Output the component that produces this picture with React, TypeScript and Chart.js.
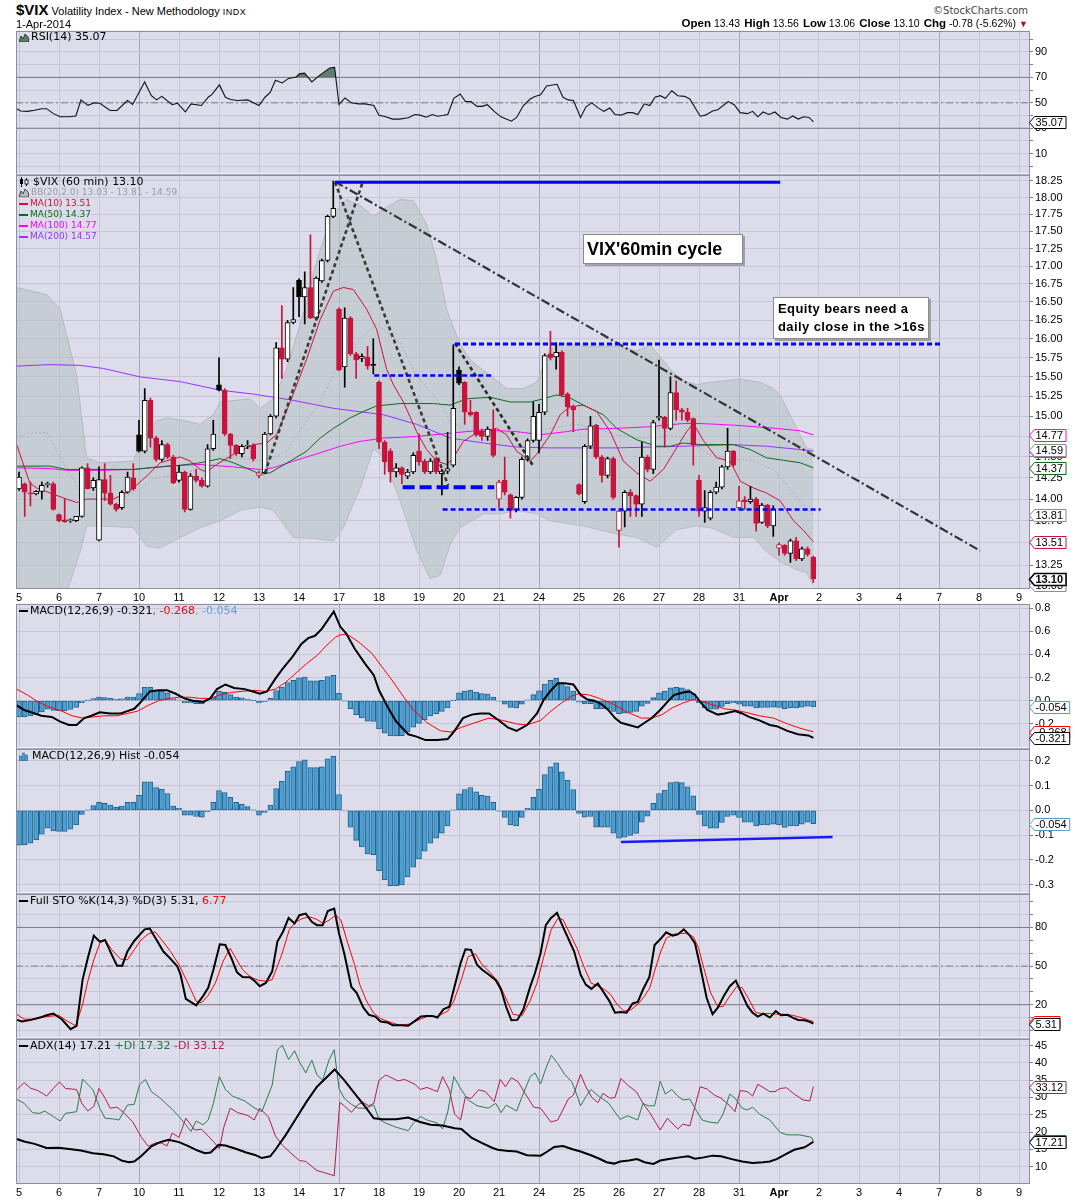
import React, { useEffect, useRef } from 'react';
import { Chart, registerables } from 'chart.js';

Chart.register(...registerables);

const AX_FONT = '"Liberation Sans", Arial, Helvetica, sans-serif';
const LG_FONT = '"DejaVu Sans", Verdana, sans-serif';
const PLOT_BG = '#dcdcea';
const GRID = '#c6c6d6';
const GRID_DARK = '#a9a9bb';
const FRAME = '#8e8e9e';
const CANDLE_RED = '#c8143c';
const HIST_FILL = '#4b9fd3';
const HIST_EDGE = '#23618c';

// ---- x axis (day index, 0 = 5 Mar 2014; 7 hourly bars per session) ----
const DAY_LABELS = ['5', '6', '7', '10', '11', '12', '13', '14', '17', '18', '19', '20', '21', '24', '25', '26', '27', '28', '31', 'Apr', '2', '3', '4', '7', '8', '9'];
const WEEK_STARTS = [3, 8, 13, 18, 23];
const BARS_PER_DAY = 7;
const X_MIN = -0.075;
const X_MAX = 25.25;

// ---- 60 min candles ----
const OPEN = [
  14.12, 14.18, 14.07, 14.06, 14.09, 14.17, 14.18,
  13.82, 13.76, 13.75, 13.75, 13.8, 14.37, 14.13,
  13.53, 14.23, 14.07, 13.94, 13.9, 14.08, 14.25,
  14.77, 14.57, 15.2, 14.73, 14.47, 14.65, 14.5,
  14.22, 14.32, 13.88, 14.27, 14.22, 14.15, 14.6,
  15.4, 15.33, 14.78, 14.64, 14.54, 14.63, 14.64,
  14.28, 14.31, 14.78, 15.0, 15.88, 15.73, 16.22,
  16.8, 16.57, 16.7, 16.28, 16.79, 17.08, 17.72,
  16.4, 15.63, 16.28, 15.8, 15.74, 15.76, 15.66,
  15.43, 14.68, 14.57, 14.32, 14.37, 14.27, 14.32,
  14.57, 14.45, 14.32, 14.47, 14.3, 14.33, 14.4,
  15.59, 15.43, 15.05, 15.05, 14.82, 14.75, 14.84,
  14.0, 14.22, 14.05, 13.87, 14.02, 14.47, 14.7,
  14.7, 15.05, 15.8, 15.76, 15.82, 15.28, 15.12,
  14.17, 13.97, 14.63, 14.89, 14.5, 14.28, 14.48,
  13.64, 13.86, 14.08, 14.04, 13.94, 14.5, 14.35,
  14.98, 14.99, 14.85, 15.3, 15.08, 15.05, 14.97,
  14.22, 13.86, 13.78, 14.08, 14.14, 14.38, 14.57,
  13.9, 13.99, 13.97, 14.0, 13.73, 13.93, 13.69,
  13.44, 13.47, 13.38, 13.52, 13.32, 13.43, 13.34,
];
const HIGH = [
  14.32, 14.19, 14.2, 14.1, 14.2, 14.2, 14.2,
  13.83, 14.0, 13.77, 13.8, 14.38, 14.42, 14.25,
  14.38, 14.42, 14.28, 13.95, 14.1, 14.32, 14.42,
  14.95, 15.35, 15.23, 14.75, 14.7, 14.67, 14.52,
  14.4, 14.33, 14.3, 14.35, 14.25, 14.65, 14.95,
  15.75, 15.35, 14.79, 14.65, 14.65, 14.7, 14.66,
  14.33, 14.8, 15.02, 15.95, 16.45, 16.25, 16.7,
  16.82, 16.92, 17.45, 16.85, 17.1, 17.74, 18.25,
  16.42, 16.42, 16.3, 15.82, 15.8, 15.9, 16.0,
  15.45, 14.7, 14.6, 14.42, 14.38, 14.35, 14.55,
  14.78, 14.47, 14.48, 14.5, 14.35, 14.8, 15.92,
  15.63, 15.44, 15.2, 15.06, 14.84, 14.87, 15.08,
  14.22, 14.5, 14.06, 14.03, 14.5, 14.72, 15.18,
  15.15, 15.8, 16.1, 15.95, 15.84, 15.3, 15.14,
  14.18, 14.65, 15.0, 14.9, 14.52, 14.5, 14.5,
  13.87, 14.1, 14.11, 14.05, 14.68, 14.52, 14.95,
  15.72, 15.0, 15.5, 15.45, 15.1, 15.1, 14.98,
  14.28, 14.1, 14.1, 14.2, 14.4, 14.85, 14.58,
  14.15, 14.03, 14.15, 14.02, 13.95, 13.94, 13.92,
  13.5, 13.48, 13.54, 13.56, 13.45, 13.45, 13.35,
];
const LOW = [
  14.1, 13.8, 13.92, 14.05, 14.0, 14.14, 13.87,
  13.74, 13.73, 13.73, 13.74, 13.79, 14.12, 14.1,
  13.52, 13.98, 13.93, 13.86, 13.88, 14.07, 14.1,
  14.56, 14.55, 14.62, 14.45, 14.45, 14.48, 14.18,
  14.2, 13.85, 13.87, 14.2, 14.14, 14.14, 14.58,
  15.32, 14.76, 14.48, 14.52, 14.5, 14.6, 14.45,
  14.25, 14.3, 14.77, 14.98, 15.48, 15.7, 16.2,
  16.3, 16.2, 16.27, 16.25, 16.77, 17.06, 17.7,
  15.58, 15.37, 15.78, 15.48, 15.7, 15.6, 15.54,
  14.6, 14.29, 14.2, 14.26, 14.18, 14.24, 14.3,
  14.4, 14.3, 14.3, 14.3, 14.05, 14.3, 14.38,
  15.4, 14.9, 15.0, 14.75, 14.7, 14.7, 14.5,
  13.9, 14.05, 13.78, 13.85, 14.0, 14.45, 14.68,
  14.55, 15.02, 15.72, 15.6, 15.25, 15.0, 14.81,
  14.05, 13.95, 14.6, 14.48, 14.2, 14.25, 14.0,
  13.45, 13.68, 13.8, 13.8, 13.8, 14.32, 14.3,
  14.95, 14.62, 14.83, 14.95, 14.95, 14.93, 14.4,
  13.8, 13.73, 13.76, 14.06, 14.12, 14.35, 14.38,
  13.88, 13.88, 13.95, 13.63, 13.72, 13.67, 13.57,
  13.36, 13.36, 13.28, 13.3, 13.3, 13.35, 13.06,
];
const CLOSE = [
  14.26, 14.08, 14.06, 14.09, 14.16, 14.18, 13.88,
  13.75, 13.74, 13.76, 13.8, 14.37, 14.12, 14.22,
  14.23, 14.07, 13.94, 13.88, 14.08, 14.26, 14.12,
  14.57, 15.2, 14.73, 14.47, 14.65, 14.5, 14.19,
  14.32, 13.88, 14.27, 14.22, 14.15, 14.6, 14.78,
  15.33, 14.78, 14.64, 14.54, 14.63, 14.64, 14.48,
  14.31, 14.78, 15.0, 15.88, 15.73, 16.22, 16.26,
  16.57, 16.7, 16.28, 16.83, 17.08, 17.72, 17.84,
  15.59, 16.28, 15.8, 15.72, 15.77, 15.64, 15.65,
  14.68, 14.44, 14.32, 14.37, 14.29, 14.32, 14.52,
  14.44, 14.32, 14.45, 14.32, 14.33, 14.36, 15.1,
  15.42, 15.05, 15.02, 14.77, 14.75, 14.84, 14.52,
  14.2, 14.08, 13.87, 14.02, 14.47, 14.7, 15.0,
  15.05, 15.78, 15.75, 15.82, 15.27, 15.12, 15.08,
  14.06, 14.63, 14.88, 14.5, 14.28, 14.48, 14.02,
  13.86, 14.08, 14.04, 13.94, 14.5, 14.35, 14.92,
  15.0, 14.85, 15.3, 15.08, 15.05, 14.95, 14.65,
  13.86, 13.9, 14.08, 14.14, 14.38, 14.57, 14.4,
  13.98, 13.97, 14.0, 13.72, 13.93, 13.69, 13.88,
  13.48, 13.38, 13.52, 13.32, 13.43, 13.37, 13.1,
];

// ---- overlays on price: [day, value] readings ----
const MA10 = [[-0.06, 14.65], [0.27, 14.19], [0.44, 14.13], [0.78, 14.07], [1.19, 14.0], [1.44, 13.96], [1.69, 14.0], [2.36, 14.0], [2.61, 14.05], [2.86, 14.13], [3.19, 14.27], [3.53, 14.43], [4.03, 14.5], [4.28, 14.45], [4.53, 14.35], [4.69, 14.32], [4.94, 14.41], [5.36, 14.53], [5.86, 14.65], [6.19, 14.67], [6.44, 14.77], [6.78, 15.18], [7.19, 15.73], [7.53, 16.26], [7.86, 16.65], [8.11, 16.7], [8.36, 16.67], [8.69, 16.4], [8.94, 16.13], [9.19, 15.6], [9.36, 15.4], [9.61, 15.18], [9.94, 14.81], [10.19, 14.59], [10.44, 14.45], [10.69, 14.41], [10.86, 14.49], [11.11, 14.69], [11.36, 14.77], [11.61, 14.81], [11.94, 14.85], [12.19, 14.77], [12.44, 14.57], [12.78, 14.45], [12.94, 14.53], [13.28, 14.77], [13.53, 15.02], [13.78, 15.12], [14.11, 15.14], [14.44, 15.06], [14.78, 14.81], [15.11, 14.45], [15.44, 14.31], [15.78, 14.21], [16.11, 14.35], [16.44, 14.61], [16.69, 14.81], [16.86, 14.91], [17.11, 14.7], [17.44, 14.49], [17.78, 14.45], [18.03, 14.21], [18.36, 14.13], [18.69, 14.07], [19.03, 13.98], [19.36, 13.75], [19.61, 13.64], [19.86, 13.51]];
const MA50 = [[-0.06, 14.39], [0.78, 14.39], [1.19, 14.35], [2.03, 14.35], [2.86, 14.35], [3.28, 14.37], [4.03, 14.4], [4.53, 14.43], [5.03, 14.48], [5.36, 14.43], [5.86, 14.33], [6.03, 14.29], [6.28, 14.31], [6.78, 14.45], [7.19, 14.57], [7.53, 14.73], [7.86, 14.85], [8.28, 14.98], [8.61, 15.06], [8.94, 15.13], [9.53, 15.16], [10.36, 15.16], [10.78, 15.14], [11.19, 15.22], [11.78, 15.24], [12.28, 15.18], [12.78, 15.18], [13.11, 15.22], [13.44, 15.27], [13.78, 15.23], [14.11, 15.14], [14.61, 15.02], [14.94, 14.85], [15.44, 14.71], [15.94, 14.63], [16.28, 14.63], [16.61, 14.67], [17.03, 14.65], [17.86, 14.65], [18.28, 14.59], [18.69, 14.49], [19.11, 14.46], [19.53, 14.43], [19.86, 14.37]];
const MA100 = [[-0.06, 14.37], [0.78, 14.36], [1.19, 14.34], [2.03, 14.34], [2.86, 14.35], [3.69, 14.39], [4.53, 14.41], [5.36, 14.38], [6.03, 14.35], [6.36, 14.37], [6.86, 14.45], [7.53, 14.55], [8.03, 14.63], [8.53, 14.69], [9.11, 14.73], [9.94, 14.75], [10.78, 14.79], [11.61, 14.83], [12.44, 14.81], [13.03, 14.77], [13.69, 14.81], [14.11, 14.84], [14.94, 14.85], [15.78, 14.87], [16.61, 14.91], [17.03, 14.91], [17.86, 14.89], [18.69, 14.86], [19.53, 14.82], [19.86, 14.77]];
const MA200 = [[-0.06, 15.64], [0.78, 15.66], [1.53, 15.65], [2.11, 15.61], [3.03, 15.5], [4.03, 15.44], [5.03, 15.33], [5.86, 15.28], [6.86, 15.2], [7.86, 15.1], [9.11, 15.02], [9.94, 14.9], [10.78, 14.73], [11.61, 14.67], [12.44, 14.62], [13.28, 14.61], [14.94, 14.61], [16.61, 14.63], [17.86, 14.65], [18.69, 14.63], [19.53, 14.59], [19.86, 14.57]];
const BB_UPPER = [[-0.06, 16.7], [0.69, 16.6], [1.03, 16.4], [1.44, 15.52], [1.69, 14.49], [2.03, 14.43], [2.86, 14.45], [3.11, 14.77], [3.44, 14.94], [3.69, 14.98], [4.19, 14.94], [4.53, 14.9], [4.86, 15.02], [5.03, 15.18], [5.78, 15.22], [6.03, 15.1], [6.36, 15.22], [6.69, 15.6], [7.19, 16.49], [7.36, 16.9], [7.78, 17.7], [8.19, 17.97], [8.53, 17.88], [8.86, 17.72], [9.19, 17.85], [9.53, 17.97], [9.86, 17.95], [10.19, 17.6], [10.44, 17.09], [10.69, 16.4], [10.86, 16.15], [11.03, 15.93], [11.28, 15.72], [11.78, 15.52], [12.19, 15.35], [12.61, 15.35], [12.94, 15.43], [13.28, 15.86], [13.61, 15.94], [14.11, 15.9], [14.94, 15.9], [15.44, 15.84], [15.78, 15.92], [16.28, 15.6], [16.61, 15.45], [16.94, 15.4], [17.28, 15.43], [18.03, 15.47], [18.53, 15.43], [18.86, 15.35], [19.03, 15.27], [19.44, 14.85], [19.69, 14.61], [19.86, 14.59]];
const BB_MIDDLE = [[-0.06, 14.72], [0.19, 14.79], [0.69, 14.8], [1.03, 14.49], [1.53, 14.09], [2.03, 14.03], [2.69, 14.03], [3.03, 14.12], [3.36, 14.24], [4.03, 14.29], [4.86, 14.41], [5.36, 14.49], [6.19, 14.45], [6.69, 14.57], [7.19, 14.94], [7.53, 15.18], [7.86, 15.52], [8.19, 15.77], [8.53, 16.0], [8.94, 16.2], [9.53, 15.95], [9.94, 15.52], [10.44, 15.22], [10.78, 14.94], [11.28, 14.81], [11.78, 14.81], [12.44, 14.79], [12.94, 14.81], [13.28, 14.85], [13.94, 14.9], [14.44, 14.85], [14.94, 14.77], [15.44, 14.73], [15.94, 14.73], [16.28, 14.77], [16.61, 14.73], [17.28, 14.53], [17.69, 14.49], [18.36, 14.45], [18.86, 14.35], [19.19, 14.17], [19.53, 13.98], [19.86, 13.81]];
const BB_LOWER = [[-0.06, 12.5], [0.78, 12.4], [1.19, 12.95], [1.53, 13.4], [1.69, 13.69], [2.03, 13.69], [2.86, 13.67], [3.19, 13.46], [3.53, 13.44], [4.03, 13.56], [4.53, 13.67], [5.03, 13.75], [5.53, 13.87], [6.03, 13.91], [6.36, 13.87], [6.86, 13.56], [7.36, 13.55], [7.86, 13.52], [8.11, 13.67], [8.53, 14.13], [8.86, 14.6], [9.11, 14.5], [9.53, 13.98], [9.94, 13.42], [10.28, 13.1], [10.53, 13.14], [10.78, 13.48], [11.03, 13.67], [11.61, 13.83], [12.03, 13.83], [12.44, 13.87], [12.94, 13.83], [13.28, 13.75], [14.11, 13.69], [14.94, 13.6], [15.44, 13.56], [15.94, 13.45], [16.44, 13.65], [16.94, 13.69], [17.28, 13.67], [17.53, 13.63], [17.86, 13.56], [18.36, 13.56], [18.69, 13.4], [19.03, 13.29], [19.44, 13.2], [19.69, 13.17], [19.86, 13.03]];

// ---- hand-drawn annotations (day, price) ----
const BLUE_HIGH = [[7.9, 18.23], [19.03, 18.23]];
const BLUE_RES = [[10.9, 15.93], [23.03, 15.93]];
const BLUE_MID = [[8.88, 15.52], [11.82, 15.52]];
const BLUE_LOW1 = [[9.59, 14.14], [11.88, 14.14]];
const BLUE_LOW2 = [[10.59, 13.88], [20.04, 13.88]];
const TREND_DOWN = [[7.9, 18.24], [24.03, 13.41]];
const CYCLE_UP = [[6.15, 14.31], [8.59, 18.23]];
const CYCLE_DOWN = [[7.9, 18.23], [10.73, 14.16]];
const CYCLE_DOWN2 = [[10.9, 15.94], [12.86, 14.39]];

// ---- RSI(14) ----
const RSI = [[-0.06, 45.4], [0.04, 43.6], [0.21, 43.3], [0.39, 44.1], [0.56, 45.4], [0.69, 45.4], [0.86, 41.5], [1.03, 39], [1.25, 39], [1.42, 39.7], [1.55, 52.3], [1.72, 48], [1.89, 50], [2.02, 49.7], [2.28, 44], [2.45, 44], [2.71, 51.8], [2.84, 48.7], [3.14, 66.4], [3.31, 55.6], [3.44, 52.3], [3.57, 55.1], [3.83, 48.5], [3.96, 49.7], [4.16, 42.8], [4.3, 49.2], [4.56, 47.9], [4.73, 54.4], [4.82, 56.4], [5.01, 64.1], [5.16, 54.4], [5.29, 52.6], [5.46, 51.8], [5.72, 52.3], [6.0, 47.9], [6.15, 54.4], [6.28, 58.2], [6.41, 67.7], [6.58, 65.6], [6.74, 69.2], [6.93, 70.3], [7.01, 72.8], [7.14, 73.3], [7.32, 66.4], [7.49, 71], [7.66, 74.9], [7.77, 77.4], [7.89, 77.9], [8.0, 48.7], [8.15, 53.8], [8.31, 50], [8.48, 49.2], [8.65, 49.2], [8.87, 47.9], [9.0, 40.3], [9.17, 39], [9.34, 37.2], [9.51, 37.2], [9.73, 38.2], [9.9, 40.8], [10.03, 40.3], [10.18, 38.7], [10.33, 40.8], [10.46, 39.5], [10.59, 40], [10.72, 40.8], [10.87, 53.6], [11.03, 56.9], [11.16, 51], [11.3, 51], [11.45, 47.2], [11.58, 47.2], [11.71, 48.5], [11.88, 43.3], [12.05, 39], [12.31, 35.6], [12.44, 38.5], [12.61, 47.9], [12.78, 53], [12.9, 54.9], [13.04, 56.4], [13.19, 63.3], [13.45, 64.6], [13.6, 54.4], [13.73, 52.3], [13.86, 51.8], [14.04, 38.5], [14.17, 46.7], [14.32, 50], [14.47, 46.2], [14.62, 43.3], [14.77, 45.9], [14.9, 40.8], [15.05, 40.3], [15.21, 42.3], [15.34, 42.3], [15.47, 40.8], [15.63, 49.2], [15.77, 47.9], [15.9, 54.4], [16.03, 55.6], [16.16, 53.6], [16.32, 59.5], [16.47, 55.6], [16.64, 55.1], [16.77, 53], [17.03, 39.5], [17.16, 40.3], [17.34, 43.6], [17.47, 44.6], [17.73, 51], [17.88, 48.5], [18.03, 42.3], [18.21, 41.5], [18.34, 43.3], [18.47, 39], [18.6, 42.8], [18.75, 40.8], [18.9, 42.8], [19.05, 38.5], [19.21, 37.2], [19.34, 39.7], [19.48, 37.2], [19.62, 39], [19.75, 38.5], [19.86, 35.07]];
const RSI_TICKS = [0, 10, 20, 30, 40, 50, 60, 70, 80, 90, 100];
const RSI_LABELED = [90, 70, 50, 30, 10];
const RSI_BANDS = [70, 30];
const RSI_MID = 50;

// ---- MACD(12,26,9) ----
const MACD = [[-0.06, -0.04], [0.13, -0.08], [0.3, -0.1], [0.56, -0.13], [0.82, -0.14], [1.03, -0.18], [1.25, -0.21], [1.44, -0.21], [1.63, -0.15], [1.81, -0.13], [2.02, -0.1], [2.28, -0.11], [2.54, -0.11], [2.71, -0.09], [2.88, -0.07], [3.05, -0.01], [3.27, 0.08], [3.49, 0.09], [3.7, 0.09], [3.92, 0.06], [4.13, 0.02], [4.35, 0], [4.6, -0.01], [4.78, 0.02], [4.95, 0.1], [5.16, 0.14], [5.38, 0.11], [5.64, 0.1], [5.85, 0.08], [6.02, 0.06], [6.2, 0.08], [6.41, 0.19], [6.58, 0.27], [6.84, 0.38], [7.06, 0.49], [7.23, 0.54], [7.4, 0.56], [7.57, 0.62], [7.75, 0.71], [7.87, 0.77], [8.03, 0.64], [8.18, 0.58], [8.39, 0.45], [8.65, 0.32], [8.87, 0.22], [9.0, 0.09], [9.21, -0.05], [9.43, -0.18], [9.73, -0.29], [9.94, -0.31], [10.16, -0.34], [10.46, -0.34], [10.72, -0.33], [10.89, -0.26], [11.1, -0.15], [11.32, -0.12], [11.53, -0.11], [11.75, -0.11], [11.96, -0.16], [12.22, -0.23], [12.44, -0.26], [12.7, -0.21], [12.95, -0.11], [13.12, 0.01], [13.3, 0.09], [13.47, 0.15], [13.64, 0.15], [13.86, 0.14], [14.04, 0.05], [14.21, 0.01], [14.38, 0], [14.56, -0.03], [14.73, -0.08], [14.9, -0.15], [15.05, -0.19], [15.25, -0.21], [15.47, -0.23], [15.64, -0.19], [15.82, -0.15], [16.03, -0.08], [16.21, -0.01], [16.38, 0.05], [16.6, 0.07], [16.77, 0.08], [16.9, 0.05], [17.03, -0.01], [17.21, -0.08], [17.47, -0.12], [17.64, -0.11], [17.9, -0.09], [18.08, -0.11], [18.25, -0.14], [18.51, -0.17], [18.77, -0.21], [18.94, -0.22], [19.21, -0.26], [19.47, -0.29], [19.73, -0.3], [19.86, -0.321]];
const MACD_SIGNAL = [[-0.06, 0.1], [0.21, 0.05], [0.47, -0.01], [0.73, -0.05], [1.07, -0.09], [1.33, -0.13], [1.59, -0.15], [1.85, -0.14], [2.11, -0.13], [2.45, -0.13], [2.71, -0.11], [2.97, -0.09], [3.23, -0.04], [3.49, 0], [3.74, 0.02], [4.0, 0.03], [4.26, 0.03], [4.52, 0.02], [4.78, 0.02], [5.03, 0.05], [5.29, 0.07], [5.55, 0.08], [5.9, 0.09], [6.15, 0.08], [6.41, 0.1], [6.67, 0.16], [6.93, 0.24], [7.19, 0.32], [7.45, 0.39], [7.7, 0.48], [7.92, 0.55], [8.05, 0.57], [8.22, 0.57], [8.48, 0.51], [8.82, 0.41], [9.08, 0.29], [9.34, 0.17], [9.6, 0.04], [9.86, -0.08], [10.2, -0.19], [10.54, -0.26], [10.8, -0.27], [11.06, -0.23], [11.4, -0.19], [11.75, -0.15], [12.09, -0.17], [12.44, -0.2], [12.7, -0.21], [13.04, -0.17], [13.3, -0.09], [13.56, -0.02], [13.82, 0.04], [13.99, 0.06], [14.25, 0.05], [14.51, 0.02], [14.86, -0.03], [15.21, -0.1], [15.56, -0.15], [15.82, -0.15], [16.08, -0.12], [16.34, -0.06], [16.6, -0.02], [16.86, 0.01], [17.12, -0.01], [17.38, -0.04], [17.64, -0.07], [17.9, -0.08], [18.16, -0.1], [18.51, -0.13], [18.86, -0.15], [19.21, -0.2], [19.55, -0.24], [19.86, -0.268]];
const MACD_HIST = [
  -0.141, -0.139, -0.132, -0.119, -0.096, -0.072, -0.083,
  -0.085, -0.085, -0.076, -0.059, -0.016, 0.001, 0.019,
  0.032, 0.028, 0.021, 0.013, 0.017, 0.032, 0.032,
  0.061, 0.115, 0.115, 0.092, 0.085, 0.068, 0.017,
  0.008, -0.019, -0.019, -0.025, -0.028, -0.005, 0.032,
  0.08, 0.072, 0.052, 0.032, 0.024, 0.015, 0.001,
  -0.019, -0.008, 0.021, 0.088, 0.117, 0.157, 0.175,
  0.197, 0.204, 0.172, 0.172, 0.175, 0.208, 0.219,
  0.064, -0.002, -0.068, -0.121, -0.148, -0.176, -0.179,
  -0.243, -0.281, -0.304, -0.304, -0.301, -0.269, -0.229,
  -0.196, -0.165, -0.132, -0.112, -0.092, -0.063, 0.001,
  0.067, 0.084, 0.092, 0.075, 0.061, 0.057, 0.032,
  -0.003, -0.029, -0.059, -0.063, -0.029, 0.008, 0.052,
  0.085, 0.144, 0.175, 0.192, 0.155, 0.121, 0.084,
  -0.012, -0.028, -0.025, -0.068, -0.068, -0.068, -0.092,
  -0.112, -0.108, -0.101, -0.093, -0.048, -0.024, 0.028,
  0.068, 0.081, 0.112, 0.115, 0.112, 0.095, 0.059,
  -0.016, -0.063, -0.072, -0.072, -0.049, -0.025, -0.019,
  -0.029, -0.048, -0.048, -0.063, -0.059, -0.059, -0.056,
  -0.059, -0.069, -0.063, -0.063, -0.056, -0.048, -0.054,
];
const MACD_TICKS = [-0.2, 0, 0.2, 0.4, 0.6, 0.8];
const HIST_TICKS = [-0.3, -0.2, -0.1, 0, 0.1, 0.2];
const HIST_DIVERGENCE = [[15.05, -0.128], [20.34, -0.108]];

// ---- Full STO %K(14,3) %D(3) ----
const STO_K = [[-0.06, 8.2], [0.08, 6.9], [0.3, 8.2], [0.52, 10], [0.69, 11.8], [0.86, 13.1], [1.07, 8.7], [1.29, 1], [1.44, 3.6], [1.59, 39.5], [1.72, 56.2], [1.87, 73.6], [2.02, 69], [2.15, 70.3], [2.32, 58.7], [2.45, 50.3], [2.58, 50.3], [2.71, 61.3], [2.88, 69.5], [3.01, 74.1], [3.14, 78.5], [3.27, 79.2], [3.44, 70.3], [3.61, 61.3], [3.79, 55.6], [3.96, 49.7], [4.04, 43.3], [4.17, 24.6], [4.43, 19.5], [4.6, 26.7], [4.73, 33.1], [4.86, 47.2], [5.02, 66.9], [5.16, 66.4], [5.31, 56.2], [5.45, 45.1], [5.59, 41.5], [5.77, 41.3], [5.9, 38.2], [6.02, 34.4], [6.17, 36.9], [6.33, 45.9], [6.46, 69], [6.6, 76.7], [6.74, 87.4], [6.89, 83.1], [7.01, 89.5], [7.17, 90.8], [7.32, 84.4], [7.45, 81.8], [7.59, 81.8], [7.72, 92.8], [7.88, 94.6], [8.0, 75.4], [8.13, 60], [8.31, 33.8], [8.44, 29.2], [8.61, 17.7], [8.75, 12.1], [8.91, 10.8], [9.04, 6.9], [9.21, 6.2], [9.34, 4.1], [9.55, 4.1], [9.73, 3.6], [9.9, 7.4], [10.05, 10.8], [10.2, 11.3], [10.33, 11.3], [10.46, 10], [10.61, 16.4], [10.76, 18.5], [10.89, 34.4], [11.04, 52.3], [11.16, 63.1], [11.3, 62.6], [11.45, 51], [11.58, 47.2], [11.75, 43.3], [11.92, 39], [12.05, 31.8], [12.18, 18.2], [12.31, 7.9], [12.46, 8.2], [12.61, 16.4], [12.78, 34], [12.9, 44.6], [13.04, 60], [13.17, 81.8], [13.3, 87.4], [13.45, 91.3], [13.6, 80.5], [13.73, 71.5], [13.88, 61.3], [14.04, 43.3], [14.17, 35.6], [14.31, 32.3], [14.47, 36.4], [14.6, 30.5], [14.76, 22.8], [14.9, 13.8], [15.05, 14.4], [15.19, 13.8], [15.34, 21], [15.47, 22.1], [15.6, 31.8], [15.76, 41.5], [15.89, 66.4], [16.03, 70.8], [16.18, 76.2], [16.34, 73.6], [16.47, 74.6], [16.62, 78.5], [16.76, 74.1], [16.9, 67.7], [17.03, 49.7], [17.19, 25.4], [17.34, 12.6], [17.47, 17.7], [17.62, 26.7], [17.77, 34.4], [17.92, 38.7], [18.06, 29.2], [18.21, 19], [18.34, 13.8], [18.47, 10.8], [18.61, 13.1], [18.77, 10], [18.92, 15.1], [19.05, 11.8], [19.21, 12.1], [19.34, 10], [19.48, 8.2], [19.64, 7.9], [19.77, 6.7], [19.86, 5.31]];
const STO_D = [[-0.06, 12.6], [0.13, 8.7], [0.39, 8.7], [0.64, 10.5], [0.99, 11.8], [1.2, 7.4], [1.42, 3.6], [1.59, 20.3], [1.72, 38.2], [1.87, 54.9], [2.02, 67.7], [2.15, 70.3], [2.32, 62.6], [2.54, 55.4], [2.71, 54.9], [2.88, 62.6], [3.05, 70.3], [3.23, 74.9], [3.4, 76.7], [3.57, 70.3], [3.79, 61.3], [4.0, 51], [4.22, 36.9], [4.43, 22.8], [4.56, 21.5], [4.73, 27.2], [4.91, 36.9], [5.1, 53.6], [5.28, 63.8], [5.42, 56.2], [5.59, 47.2], [5.79, 41.5], [5.98, 39], [6.2, 38.2], [6.33, 39.5], [6.46, 49.7], [6.58, 60], [6.76, 78.5], [6.93, 84.4], [7.08, 86.9], [7.27, 88.2], [7.45, 86.2], [7.6, 83.1], [7.75, 85.6], [7.92, 89.5], [8.05, 85.6], [8.22, 67.7], [8.39, 51], [8.52, 35.6], [8.69, 22.8], [8.87, 13.3], [9.04, 9.2], [9.25, 6.7], [9.51, 4.1], [9.77, 4.9], [10.03, 8.7], [10.24, 11.3], [10.46, 10.8], [10.72, 15.1], [10.87, 22.8], [11.06, 39.5], [11.23, 57.4], [11.41, 59.5], [11.58, 51], [11.75, 45.9], [11.97, 38.2], [12.14, 27.2], [12.35, 12.6], [12.57, 11.3], [12.78, 23], [12.95, 36.9], [13.12, 57.4], [13.3, 77.9], [13.47, 86.9], [13.6, 86.2], [13.77, 75.4], [13.95, 63.8], [14.12, 49.7], [14.3, 36.9], [14.47, 34.4], [14.64, 31.8], [14.79, 27.9], [14.95, 20.3], [15.12, 15.1], [15.29, 15.9], [15.47, 20.3], [15.64, 26.7], [15.77, 33.1], [15.9, 47.2], [16.03, 60], [16.18, 71.5], [16.34, 74.6], [16.51, 75.4], [16.69, 75.4], [16.86, 72.8], [16.99, 63.8], [17.12, 48.5], [17.29, 29.2], [17.47, 18.5], [17.6, 18.5], [17.77, 26.7], [17.95, 34.4], [18.08, 33.1], [18.25, 24.1], [18.42, 13.8], [18.6, 13.1], [18.77, 13.1], [18.94, 12.6], [19.12, 12.6], [19.34, 11.8], [19.55, 10], [19.73, 8.2], [19.86, 6.77]];
const STO_TICKS = [0, 10, 20, 30, 40, 50, 60, 70, 80, 90, 100];
const STO_LABELED = [80, 50, 20];
const STO_BANDS = [80, 20];
const STO_MID = 50;

// ---- ADX(14) ----
const ADX = [[-0.06, 18], [0.13, 17.3], [0.39, 16.6], [0.69, 15.4], [0.99, 15.5], [1.25, 15.1], [1.55, 14.7], [1.85, 13.9], [2.11, 13.6], [2.37, 13], [2.58, 11.7], [2.75, 11.3], [2.88, 11.5], [3.05, 13], [3.31, 15.9], [3.53, 17.1], [3.74, 17.8], [4.0, 17.1], [4.22, 16], [4.48, 14.6], [4.65, 13.9], [4.79, 14.1], [4.99, 16.3], [5.16, 16.1], [5.42, 15.2], [5.68, 14.1], [5.9, 13.4], [6.07, 12.5], [6.28, 13], [6.41, 14.9], [6.67, 19.2], [6.93, 24], [7.19, 28.8], [7.45, 33.1], [7.66, 35.5], [7.89, 38.1], [8.13, 35], [8.39, 31.2], [8.65, 27.4], [8.87, 24], [9.08, 23.7], [9.43, 23.7], [9.73, 24.2], [10.03, 22.9], [10.29, 22.1], [10.59, 21.9], [10.89, 21.1], [11.06, 20.9], [11.32, 18.3], [11.58, 16.8], [11.84, 15.4], [11.97, 14.9], [12.18, 14.6], [12.44, 14.4], [12.7, 13.3], [13.04, 13.2], [13.21, 14.4], [13.38, 15.7], [13.6, 16], [13.82, 15.1], [14.04, 14.4], [14.3, 13.3], [14.51, 12.3], [14.69, 11.3], [14.88, 10.9], [15.03, 11.5], [15.25, 11.8], [15.45, 12.2], [15.64, 11.3], [15.86, 10.8], [16.03, 11.8], [16.25, 12.2], [16.51, 12.7], [16.73, 13], [16.9, 12.3], [17.12, 12.7], [17.34, 13.2], [17.55, 13], [17.82, 12.2], [18.08, 11.5], [18.34, 11.1], [18.6, 11.3], [18.77, 11.5], [18.94, 12.2], [19.16, 13.6], [19.38, 14.9], [19.64, 15.6], [19.86, 17.21]];
const PLUS_DI = [[-0.06, 29.5], [0.13, 28.3], [0.34, 25.6], [0.52, 25.4], [0.64, 26.1], [0.86, 24.5], [1.03, 23.2], [1.16, 25.4], [1.44, 25.9], [1.59, 35.3], [1.85, 32.2], [2.02, 26.9], [2.15, 24], [2.37, 23.8], [2.5, 23.5], [2.71, 27.8], [2.88, 28], [3.01, 33.6], [3.16, 35.2], [3.31, 31.7], [3.53, 29.8], [3.83, 26.6], [4.0, 24.5], [4.17, 22.1], [4.3, 20.2], [4.43, 23.2], [4.6, 22.1], [4.73, 23.5], [4.86, 28.3], [5.01, 36], [5.16, 32.3], [5.34, 30.4], [5.64, 29], [5.9, 26.9], [6.07, 25.9], [6.33, 33.6], [6.46, 43.7], [6.58, 45.1], [6.74, 41], [6.89, 43.5], [7.01, 40.3], [7.17, 37.1], [7.32, 40.8], [7.45, 36.5], [7.59, 35], [7.75, 40.8], [7.88, 43.8], [8.0, 32.6], [8.13, 29.8], [8.31, 28], [8.48, 26.9], [8.65, 26.9], [8.87, 27.8], [9.0, 23.7], [9.17, 22.6], [9.43, 21.4], [9.73, 20.4], [9.86, 22.6], [10.03, 24.5], [10.2, 23.5], [10.46, 22.6], [10.59, 20.9], [10.72, 25.9], [10.87, 36], [11.06, 32.2], [11.23, 29.3], [11.45, 27.6], [11.73, 26.9], [11.92, 28.3], [12.05, 25.6], [12.18, 27.8], [12.44, 26.1], [12.61, 31.2], [12.78, 36], [12.9, 37.1], [13.04, 33.9], [13.17, 38.4], [13.31, 42.2], [13.47, 39.8], [13.64, 36.7], [13.82, 34.5], [13.9, 32.2], [14.04, 27.6], [14.17, 30.2], [14.3, 32.3], [14.51, 30.2], [14.73, 28.5], [15.03, 23.7], [15.21, 24.7], [15.47, 23.5], [15.6, 28.3], [15.73, 27.6], [15.89, 27.6], [16.03, 34.7], [16.16, 31], [16.32, 32.3], [16.47, 30.4], [16.6, 29.3], [16.77, 29.5], [16.95, 25.9], [17.08, 23.5], [17.25, 22.9], [17.47, 22.6], [17.6, 25.2], [17.77, 31], [17.9, 29.8], [18.08, 26.9], [18.21, 26.4], [18.34, 27.2], [18.51, 25.2], [18.77, 23.5], [19.03, 19.9], [19.21, 19.2], [19.51, 19.2], [19.81, 18.5], [19.86, 17.32]];
const MINUS_DI = [[-0.06, 32.2], [0.13, 34.3], [0.3, 32.6], [0.43, 32.2], [0.56, 31.4], [0.69, 30.4], [0.86, 32.6], [1.01, 34.5], [1.16, 32.6], [1.44, 32.3], [1.57, 28.3], [1.72, 26.1], [1.87, 27.4], [2.0, 32.6], [2.15, 29.8], [2.28, 26.9], [2.45, 27.2], [2.62, 25.6], [2.84, 23], [3.05, 18.7], [3.23, 15.9], [3.44, 17], [3.57, 16.8], [3.7, 16], [3.83, 19.7], [4.0, 18.5], [4.17, 24], [4.39, 20.6], [4.56, 20.8], [4.73, 18.9], [4.86, 17.3], [5.01, 15.2], [5.12, 21.4], [5.28, 26.9], [5.47, 25.6], [5.72, 24.8], [5.88, 23.5], [6.02, 26.9], [6.24, 24.3], [6.41, 18.9], [6.58, 16.3], [6.8, 13.9], [7.01, 11.8], [7.17, 11.5], [7.45, 8.9], [7.66, 8.2], [7.88, 7.4], [8.02, 28.6], [8.13, 27.6], [8.31, 25.7], [8.48, 28], [8.61, 28.6], [8.74, 27.6], [8.87, 28.3], [9.0, 35], [9.17, 36.5], [9.47, 34.8], [9.64, 35.2], [9.9, 33.8], [10.03, 32.3], [10.2, 32.9], [10.46, 31.7], [10.59, 36], [10.76, 32.2], [10.89, 25.2], [11.04, 23.5], [11.16, 30.2], [11.3, 29.7], [11.49, 32.2], [11.66, 31.7], [11.88, 28.8], [12.03, 35.2], [12.16, 33.1], [12.31, 35.7], [12.48, 34.5], [12.65, 31.2], [12.87, 27.2], [13.04, 26.9], [13.3, 22.9], [13.47, 23.5], [13.73, 29.5], [13.86, 30.7], [14.04, 36.7], [14.17, 33.1], [14.32, 30], [14.47, 28.5], [14.6, 31.2], [14.77, 29.8], [14.9, 30], [15.05, 35.5], [15.21, 33.6], [15.43, 31.7], [15.6, 28.3], [15.77, 25.6], [16.03, 20.6], [16.21, 24], [16.47, 20.9], [16.6, 22.3], [16.77, 21.8], [17.03, 33.1], [17.21, 32.4], [17.38, 30.7], [17.55, 29.8], [17.75, 27.8], [17.9, 25.9], [18.03, 32], [18.21, 31.7], [18.34, 30.4], [18.47, 33.8], [18.6, 32.9], [18.77, 31.7], [18.9, 31.7], [19.03, 32.6], [19.19, 32.8], [19.38, 31], [19.6, 29.3], [19.77, 29], [19.86, 33.12]];
const ADX_TICKS = [10, 15, 20, 25, 30, 35, 40, 45];

const PRICE_TICKS = [13.25, 13.5, 13.75, 14, 14.25, 14.5, 14.75, 15, 15.25, 15.5, 15.75, 16, 16.25, 16.5, 16.75, 17, 17.25, 17.5, 17.75, 18, 18.25];

// ---------------- helpers ----------------
const last = (a: number[][]) => a[a.length - 1][1];
const pts = (a: number[][]) => a.map(([x, y]) => ({ x, y }));
const barX = (i: number) => Math.floor(i / BARS_PER_DAY) + (i % BARS_PER_DAY) / BARS_PER_DAY;
const isRed = (i: number) => CLOSE[i] < (i > 0 ? CLOSE[i - 1] : OPEN[i]);
const strokeOf = (i: number) => (isRed(i) ? CANDLE_RED : '#000000');
const fillOf = (i: number) => (CLOSE[i] >= OPEN[i] ? '#ffffff' : strokeOf(i));

const lineDs = (data: number[][], color: string, width: number, order: number, extra: any = {}) => ({
  type: 'line',
  data: pts(data),
  borderColor: color,
  backgroundColor: color,
  borderWidth: width,
  pointRadius: 0,
  fill: false,
  tension: 0,
  order,
  ...extra,
});
const levelDs = (v: number, color: string, dash: number[], order: number) =>
  lineDs([[X_MIN, v], [X_MAX, v]], color, 1, order, { borderDash: dash });

const histDs = (order: number) => ({
  type: 'bar',
  data: MACD_HIST.map((v, i) => ({ x: barX(i), y: v })),
  backgroundColor: HIST_FILL,
  borderColor: HIST_EDGE,
  borderWidth: 1,
  borderSkipped: false,
  barThickness: 5,
  grouped: false,
  order,
});

const xScale = (showLabels: boolean, axisH: number) => ({
  type: 'linear',
  position: 'bottom',
  min: X_MIN,
  max: X_MAX,
  offset: false,
  afterBuildTicks: (s: any) => {
    s.ticks = DAY_LABELS.map((_, i) => ({ value: i }));
  },
  afterFit: (s: any) => {
    s.height = axisH;
  },
  grid: {
    color: (c: any) => (c.tick && WEEK_STARTS.includes(c.tick.value) ? GRID_DARK : GRID),
    lineWidth: 1,
    drawTicks: false,
    offset: false,
  },
  border: { display: false },
  ticks: {
    display: showLabels,
    autoSkip: false,
    maxRotation: 0,
    padding: 3,
    color: '#000',
    font: (c: any) => ({
      family: AX_FONT,
      size: 11,
      weight: c.tick && DAY_LABELS[c.tick.value] === 'Apr' ? 'bold' : 'normal',
    }),
    callback: (v: any) => DAY_LABELS[v] ?? '',
  },
});

const yScale = (o: { type?: string; min: number; max: number; ticks: number[]; label: (v: number) => string }) => ({
  type: o.type || 'linear',
  position: 'right',
  min: o.min,
  max: o.max,
  afterBuildTicks: (s: any) => {
    s.ticks = o.ticks.map((value) => ({ value }));
  },
  afterFit: (s: any) => {
    s.width = 46;
  },
  grid: { color: GRID, lineWidth: 1, drawTicks: true, tickLength: 4, tickColor: '#7c7c8c' },
  border: { display: false },
  ticks: {
    autoSkip: false,
    padding: 2,
    color: '#000',
    font: { family: AX_FONT, size: 11 },
    callback: (v: any) => o.label(Number(v)),
  },
});

const bgPlugin = {
  id: 'plotBg',
  beforeDraw(chart: any) {
    const { ctx, chartArea: a } = chart;
    ctx.save();
    ctx.fillStyle = PLOT_BG;
    ctx.fillRect(a.left, a.top, a.right - a.left, a.bottom - a.top);
    ctx.restore();
  },
};
const framePlugin = {
  id: 'plotFrame',
  afterDraw(chart: any) {
    const { ctx, chartArea: a } = chart;
    ctx.save();
    ctx.strokeStyle = FRAME;
    ctx.lineWidth = 1;
    ctx.strokeRect(Math.round(a.left) + 0.5, Math.round(a.top) + 0.5, Math.round(a.right - a.left), Math.round(a.bottom - a.top));
    ctx.restore();
  },
};
type Box = { v: number; color: string; label: string; bold?: boolean };
const boxPlugin = (boxes: Box[]) => ({
  id: 'valueBoxes',
  afterDraw(chart: any) {
    const { ctx, chartArea } = chart;
    const ys = chart.scales.y;
    boxes.forEach((b) => {
      const y = Math.round(ys.getPixelForValue(b.v)) + 0.5;
      const x0 = Math.round(chartArea.right) + 0.5;
      ctx.save();
      ctx.font = `${b.bold ? 'bold ' : ''}11px ${AX_FONT}`;
      const w = ctx.measureText(b.label).width + 9;
      const h = 12;
      ctx.beginPath();
      ctx.moveTo(x0, y);
      ctx.lineTo(x0 + 5, y - h / 2);
      ctx.lineTo(x0 + w, y - h / 2);
      ctx.lineTo(x0 + w, y + h / 2);
      ctx.lineTo(x0 + 5, y + h / 2);
      ctx.closePath();
      ctx.fillStyle = '#ffffff';
      ctx.fill();
      ctx.strokeStyle = b.color;
      ctx.lineWidth = b.bold ? 1.6 : 1;
      ctx.stroke();
      ctx.fillStyle = '#000';
      ctx.textBaseline = 'middle';
      ctx.fillText(b.label, x0 + 6, y + 0.5);
      ctx.restore();
    });
  },
});

const f2 = (v: number) => v.toFixed(2);
const f3 = (v: number) => v.toFixed(3);
const f1 = (v: number) => v.toFixed(1);

// ---------------- panels ----------------
type Panel = { top: number; bottom: number; axisH: number; padBottom: number; labels: boolean; y: any; datasets: any[]; boxes: Box[] };

const candleWicks = {
  type: 'bar',
  data: OPEN.map((_, i) => ({ x: barX(i), y: [LOW[i], HIGH[i]] })),
  backgroundColor: OPEN.map((_, i) => strokeOf(i)),
  borderWidth: 0,
  barThickness: 1,
  grouped: false,
  order: 2,
};
const candleBodies = {
  type: 'bar',
  data: OPEN.map((o, i) => ({ x: barX(i), y: [o, CLOSE[i]] })),
  backgroundColor: OPEN.map((_, i) => fillOf(i)),
  borderColor: OPEN.map((_, i) => strokeOf(i)),
  borderWidth: 1,
  borderSkipped: false,
  barThickness: 5,
  minBarLength: 1,
  grouped: false,
  order: 1,
};

const DOT = [4, 3];
const PANELS: Panel[] = [
  {
    top: 30, bottom: 174, axisH: 0, padBottom: 8, labels: false,
    y: yScale({ min: -5.5, max: 106.8, ticks: RSI_TICKS, label: (v) => (RSI_LABELED.includes(v) ? String(v) : '') }),
    datasets: [
      lineDs(RSI, '#111111', 1.1, 0, { fill: { target: { value: 70 }, above: '#5f7e6e', below: 'rgba(0,0,0,0)' } }),
      ...RSI_BANDS.map((v) => levelDs(v, '#7a7a8a', [], 1)),
      levelDs(RSI_MID, '#7a7a8a', [7, 3, 2, 3], 1),
    ],
    boxes: [{ v: last(RSI), color: '#000', label: f2(last(RSI)) }],
  },
  {
    top: 174, bottom: 588, axisH: 15, padBottom: 8, labels: true,
    y: yScale({ type: 'logarithmic', min: 13.034, max: 18.347, ticks: PRICE_TICKS, label: f2 }),
    datasets: [
      lineDs(BLUE_HIGH, '#0000ff', 3, 0),
      lineDs(BLUE_RES, '#0000ff', 3, 0, { borderDash: [5, 3] }),
      lineDs(BLUE_MID, '#0000ff', 2.5, 0, { borderDash: [5, 3] }),
      lineDs(BLUE_LOW1, '#0000ff', 4, 0, { borderDash: [12, 5] }),
      lineDs(BLUE_LOW2, '#0000ff', 2.5, 0, { borderDash: [5, 3] }),
      lineDs(TREND_DOWN, '#333333', 2.2, 0, { borderDash: [9, 3, 2, 3] }),
      lineDs(CYCLE_UP, '#3a3a3a', 2.6, 0, { borderDash: DOT }),
      lineDs(CYCLE_DOWN, '#3a3a3a', 2.6, 0, { borderDash: DOT }),
      lineDs(CYCLE_DOWN2, '#2a2a2a', 2.6, 0, { borderDash: DOT }),
      candleBodies,
      candleWicks,
      lineDs(MA10, '#d0103a', 1, 3),
      lineDs(MA50, '#0b6a1c', 1, 4),
      lineDs(MA100, '#ff00ff', 1, 5),
      lineDs(MA200, '#9933ff', 1, 6),
      lineDs(BB_MIDDLE, '#aeaebf', 1, 7, { borderDash: [2, 2] }),
      lineDs(BB_UPPER, '#b3babf', 1, 8, { fill: '+1', backgroundColor: 'rgba(186,196,198,0.62)' }),
      lineDs(BB_LOWER, '#b3babf', 1, 8),
    ],
    boxes: [
      { v: last(MA200), color: '#9933ff', label: f2(last(MA200)) },
      { v: last(BB_UPPER), color: '#8c8c8c', label: f2(last(BB_UPPER)) },
      { v: last(MA100), color: '#ff00ff', label: f2(last(MA100)) },
      { v: last(MA50), color: '#0b6a1c', label: f2(last(MA50)) },
      { v: last(BB_LOWER), color: '#8c8c8c', label: f2(last(BB_LOWER)) },
      { v: last(BB_MIDDLE), color: '#8c8c8c', label: f2(last(BB_MIDDLE)) },
      { v: last(MA10), color: '#d0103a', label: f2(last(MA10)) },
      { v: CLOSE[CLOSE.length - 1], color: '#000', label: f2(CLOSE[CLOSE.length - 1]), bold: true },
    ],
  },
  {
    top: 603, bottom: 748, axisH: 0, padBottom: 8, labels: false,
    y: yScale({ min: -0.403, max: 0.838, ticks: MACD_TICKS, label: f1 }),
    datasets: [
      lineDs(MACD, '#000000', 2, 0),
      lineDs(MACD_SIGNAL, '#ff0000', 1, 1),
      histDs(2),
    ],
    boxes: [
      { v: MACD_HIST[MACD_HIST.length - 1], color: HIST_FILL, label: f3(MACD_HIST[MACD_HIST.length - 1]) },
      { v: last(MACD_SIGNAL), color: '#ff0000', label: f3(last(MACD_SIGNAL)) },
      { v: last(MACD), color: '#000', label: f3(last(MACD)) },
    ],
  },
  {
    top: 748, bottom: 893, axisH: 0, padBottom: 8, labels: false,
    y: yScale({ min: -0.331, max: 0.249, ticks: HIST_TICKS, label: f1 }),
    datasets: [lineDs(HIST_DIVERGENCE, '#1a1aff', 2.5, 0), histDs(1)],
    boxes: [{ v: MACD_HIST[MACD_HIST.length - 1], color: HIST_FILL, label: f3(MACD_HIST[MACD_HIST.length - 1]) }],
  },
  {
    top: 893, bottom: 1038, axisH: 0, padBottom: 8, labels: false,
    y: yScale({ min: -5.4, max: 106.3, ticks: STO_TICKS, label: (v) => (STO_LABELED.includes(v) ? String(v) : '') }),
    datasets: [
      lineDs(STO_K, '#000000', 2, 0),
      lineDs(STO_D, '#ff0000', 1, 1),
      ...STO_BANDS.map((v) => levelDs(v, '#7a7a8a', [], 2)),
      levelDs(STO_MID, '#7a7a8a', [7, 3, 2, 3], 2),
    ],
    boxes: [
      { v: last(STO_D), color: '#ff0000', label: f2(last(STO_D)) },
      { v: last(STO_K), color: '#000', label: f2(last(STO_K)) },
    ],
  },
  {
    top: 1038, bottom: 1183, axisH: 17, padBottom: 0, labels: true,
    y: yScale({ min: 5.3, max: 47, ticks: ADX_TICKS, label: (v) => String(v) }),
    datasets: [
      lineDs(ADX, '#000000', 2, 0),
      lineDs(PLUS_DI, '#2a7d4c', 1, 1),
      lineDs(MINUS_DI, '#b01e4a', 1, 2),
    ],
    boxes: [
      { v: last(MINUS_DI), color: '#b01e4a', label: f2(last(MINUS_DI)) },
      { v: last(PLUS_DI), color: '#1e7a3e', label: f2(last(PLUS_DI)) },
      { v: last(ADX), color: '#000', label: f2(last(ADX)) },
    ],
  },
];

const PAD_TOP = 8;
const canvasTop = (p: Panel) => p.top - PAD_TOP;
const canvasH = (p: Panel) => PAD_TOP + (p.bottom - p.top) + p.axisH + p.padBottom;

const buildConfig = (p: Panel): any => ({
  type: 'line',
  data: { datasets: p.datasets },
  options: {
    animation: false,
    responsive: false,
    maintainAspectRatio: false,
    events: [],
    layout: { padding: { left: 16, right: 0, top: PAD_TOP, bottom: p.padBottom } },
    plugins: { legend: { display: false }, tooltip: { enabled: false } },
    scales: { x: xScale(p.labels, p.axisH), y: p.y },
  },
  plugins: [bgPlugin, framePlugin, boxPlugin(p.boxes)],
});

// ---------------- small legend icons ----------------
const LineIcon = ({ color, w = 2 }: { color: string; w?: number }) => (
  <svg width="9" height="8" style={{ marginRight: 2, verticalAlign: 'middle' }}>
    <line x1="0" y1="4" x2="9" y2="4" stroke={color} strokeWidth={w} />
  </svg>
);
const Mountain = ({ fill }: { fill: string }) => (
  <svg width="10" height="9" style={{ marginRight: 2, verticalAlign: 'middle' }}>
    <polygon points="0,9 2,3 4,6 6,1 9,4 10,9" fill={fill} stroke="#222" strokeWidth="0.8" />
  </svg>
);
const CandleIcon = () => (
  <svg width="11" height="10" style={{ marginRight: 3, verticalAlign: 'middle' }}>
    <line x1="2.5" y1="0" x2="2.5" y2="10" stroke="#000" />
    <rect x="1" y="2" width="3" height="5" fill="#000" />
    <line x1="7.5" y1="1" x2="7.5" y2="9" stroke="#000" />
    <rect x="6" y="3" width="3" height="4" fill="#fff" stroke="#000" strokeWidth="0.8" />
  </svg>
);
const BarsIcon = () => (
  <svg width="10" height="9" style={{ marginRight: 3, verticalAlign: 'middle' }}>
    <rect x="0.5" y="4" width="2" height="5" fill={HIST_FILL} stroke={HIST_EDGE} strokeWidth="0.6" />
    <rect x="3.5" y="1" width="2" height="8" fill={HIST_FILL} stroke={HIST_EDGE} strokeWidth="0.6" />
    <rect x="6.5" y="3" width="2" height="6" fill={HIST_FILL} stroke={HIST_EDGE} strokeWidth="0.6" />
  </svg>
);

const abs = (left: number, top: number, extra: any = {}) => ({ position: 'absolute' as const, left, top, whiteSpace: 'nowrap' as const, ...extra });

export default function App() {
  const canvases = useRef<(HTMLCanvasElement | null)[]>([]);

  useEffect(() => {
    document.body.style.margin = '0';
    const charts = PANELS.map((p, i) => new Chart(canvases.current[i] as HTMLCanvasElement, buildConfig(p)));
    return () => charts.forEach((c) => c.destroy());
  }, []);

  const lg = { fontFamily: LG_FONT, fontSize: 11, lineHeight: '13px', color: '#000' };
  const sm = { fontFamily: LG_FONT, fontSize: 9, lineHeight: '11px' };
  const closeLast = CLOSE[CLOSE.length - 1];
  const hb = { fontSize: 11.5, fontWeight: 'bold' as const, marginLeft: 4 };

  return (
    <div style={{ position: 'absolute', left: 0, top: 0, width: 1075, height: 1200, background: '#ffffff', overflow: 'hidden', fontFamily: AX_FONT }}>
      {PANELS.map((p, i) => (
        <canvas
          key={i}
          ref={(el) => {
            canvases.current[i] = el;
          }}
          width={1075}
          height={canvasH(p)}
          style={{ position: 'absolute', left: 0, top: canvasTop(p), width: 1075, height: canvasH(p) }}
        />
      ))}

      {/* header */}
      <div style={abs(16, 2, { fontSize: 11, lineHeight: '16px' })}>
        <span style={{ fontWeight: 'bold', fontSize: 15 }}>$VIX</span>
        <span> Volatility Index - New Methodology </span>
        <span style={{ fontSize: 9, letterSpacing: 0.5 }}>INDX</span>
      </div>
      <div style={abs(16, 17, { fontSize: 11, lineHeight: '14px' })}>1-Apr-2014</div>
      <div style={{ position: 'absolute', right: 47, top: 4, fontFamily: LG_FONT, fontSize: 10, lineHeight: '14px', color: '#444', whiteSpace: 'nowrap' }}>©StockCharts.com</div>
      <div style={{ position: 'absolute', right: 47, top: 16, fontSize: 10.5, lineHeight: '14px', whiteSpace: 'nowrap' }}>
        <b style={{ ...hb, marginLeft: 0 }}>Open</b> 13.43<b style={hb}>High</b> 13.56<b style={hb}>Low</b> 13.06
        <b style={hb}>Close</b> {f2(closeLast)}<b style={hb}>Chg</b> -0.78 (-5.62%)
        <span style={{ color: '#a01030', fontSize: 9, marginLeft: 3 }}>▼</span>
      </div>

      {/* panel legends */}
      <div style={abs(19, 30, lg)}>
        <Mountain fill="#5f7e6e" />RSI(14) {f2(last(RSI))}
      </div>

      <div style={abs(19, 175, lg)}>
        <CandleIcon />$VIX (60 min) {f2(closeLast)}
      </div>
      <div style={abs(19, 187, { ...sm, color: '#9c9ca6' })}>
        <Mountain fill="#b9c0c3" />BB(20,2.0) {f2(last(BB_LOWER))} - {f2(last(BB_MIDDLE))} - {f2(last(BB_UPPER))}
      </div>
      <div style={abs(19, 198, { ...sm, color: '#d0103a' })}>
        <LineIcon color="#d0103a" />MA(10) {f2(last(MA10))}
      </div>
      <div style={abs(19, 209, { ...sm, color: '#0b6a1c' })}>
        <LineIcon color="#0b6a1c" />MA(50) {f2(last(MA50))}
      </div>
      <div style={abs(19, 220, { ...sm, color: '#ff00ff' })}>
        <LineIcon color="#ff00ff" />MA(100) {f2(last(MA100))}
      </div>
      <div style={abs(19, 231, { ...sm, color: '#9933ff' })}>
        <LineIcon color="#9933ff" />MA(200) {f2(last(MA200))}
      </div>

      <div style={abs(19, 604, lg)}>
        <LineIcon color="#000" />MACD(12,26,9) {f3(last(MACD))}
        <span style={{ color: '#ff0000' }}>, {f3(last(MACD_SIGNAL))}</span>
        <span style={{ color: '#5aa8d8' }}>, {f3(MACD_HIST[MACD_HIST.length - 1])}</span>
      </div>
      <div style={abs(19, 749, lg)}>
        <BarsIcon />MACD(12,26,9) Hist {f3(MACD_HIST[MACD_HIST.length - 1])}
      </div>
      <div style={abs(19, 894, lg)}>
        <LineIcon color="#000" />Full STO %K(14,3) %D(3) {f2(last(STO_K))}, <span style={{ color: '#ff0000' }}>{f2(last(STO_D))}</span>
      </div>
      <div style={abs(19, 1039, lg)}>
        <LineIcon color="#000" />ADX(14) {f2(last(ADX))} <span style={{ color: '#1e7a3e' }}>+DI {f2(last(PLUS_DI))}</span>{' '}
        <span style={{ color: '#b01e4a' }}>-DI {f2(last(MINUS_DI))}</span>
      </div>

      {/* text annotations */}
      <div
        style={abs(583, 234, {
          width: 155,
          height: 28,
          background: '#fff',
          border: '1px solid #8a8a8a',
          boxShadow: '2px 2px 0 #a0a0a8',
          fontFamily: AX_FONT,
          fontWeight: 'bold',
          fontSize: 18,
          lineHeight: '28px',
          paddingLeft: 3,
          boxSizing: 'content-box',
        })}
      >
        VIX'60min cycle
      </div>
      <div
        style={abs(773, 297, {
          width: 150,
          height: 38,
          background: '#fff',
          border: '1px solid #8a8a8a',
          boxShadow: '2px 2px 0 #a0a0a8',
          fontFamily: AX_FONT,
          fontWeight: 'bold',
          fontSize: 13,
          lineHeight: '18px',
          padding: '2px 0 0 4px',
          letterSpacing: 0.4,
          whiteSpace: 'normal',
        })}
      >
        Equity bears need a<br />
        daily close in the &gt;16s
      </div>
    </div>
  );
}
